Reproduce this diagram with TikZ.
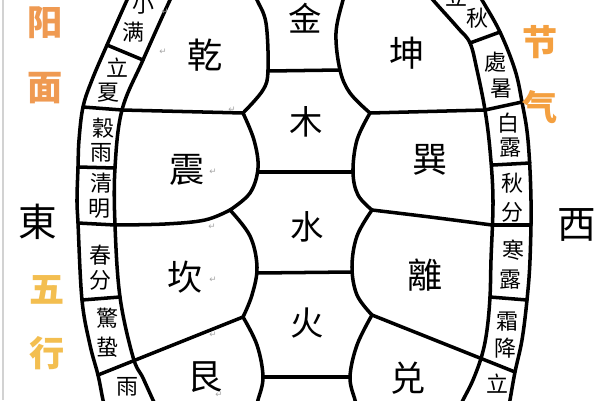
\documentclass[tikz,border=0pt]{standalone}
\usepackage{fontspec}
\newfontfamily\cjk{Noto Sans CJK SC}
\newfontfamily\symf{DejaVu Sans}
\definecolor{yangc}{HTML}{EF9A52}
\definecolor{jieqic}{HTML}{F4A040}
\definecolor{wuxingc}{HTML}{F3BE50}
\tikzset{
  shell/.style={line width=2pt, line join=round, line cap=round},
  bandtxt/.style={font=\cjk\fontsize{12.5}{12.5}\selectfont, inner sep=0pt},
  guatxt/.style={font=\cjk\fontsize{20}{20}\selectfont, inner sep=0pt},
  wxtxt/.style={font=\cjk\fontsize{19}{19}\selectfont, inner sep=0pt},
  sidetxt/.style={font=\cjk\bfseries\fontsize{20}{20}\selectfont, inner sep=0pt},
  dirtxt/.style={font=\cjk\fontsize{22}{22}\selectfont, inner sep=0pt},
  retmark/.style={font=\symf\fontsize{5}{5}\selectfont, text=gray!70, inner sep=0pt},
}
\begin{document}
\begin{tikzpicture}[x=0.02cm,y=-0.02cm]
\useasboundingbox (0,0) rectangle (600,400);
\fill[white] (0,0) rectangle (600,400);
\draw[gray!35, line width=0.8pt] (3,0) -- (3,400);
\begin{scope}
\clip (0,0) rectangle (600,400);
% outer and inner shells
\draw[shell] plot[smooth, tension=0.6] coordinates {(131,-8) (127,0) (107,45) (92,80) (83,107) (79,140) (78,167) (77,200) (78,223) (82,300) (90,345) (98,375) (103,400) (106,410)};
\draw[shell] plot[smooth, tension=0.6] coordinates {(175,-8) (170,0) (143,60) (122,110) (115,168) (115,225) (120,297) (133,357) (143,378) (153,400) (158,410)};
\draw[shell] plot[smooth, tension=0.6] coordinates {(477,-8) (482,0) (500,32) (515,70) (522,102) (528,140) (531,200) (530,260) (527,300) (522,340) (515,372) (510,400) (508,410)};
\draw[shell] plot[smooth, tension=0.6] coordinates {(427,-8) (433,0) (458,28) (470,43) (477,70) (485,110) (490,150) (493,200) (491,260) (490,297) (487,330) (482,355) (473,380) (463,400) (458,410)};
% left band dividers
\draw[shell] (107,45) -- (143,60);
\draw[shell] (83,107) -- (122,110) -- (243,113);
\draw[shell] (78,167) -- (115,168);
\draw[shell] (78,223) -- (115,225);
\draw[shell] (82,300) -- (120,297);
\draw[shell] (98,375) -- (243,317);
% right band dividers
\draw[shell] (470,43) -- (500,32);
\draw[shell] (370,113) -- (485,110) -- (522,102);
\draw[shell] (493,165) -- (530,163);
\draw[shell] (492,225) -- (531,225);
\draw[shell] (490,297) -- (527,300);
\draw[shell] (372,315) -- (515,372);
% left trigram edges
\draw[shell] plot[smooth, tension=0.6] coordinates {(254,-8) (257,0) (266,23) (268,70) (263,90) (243,113)};
\draw[shell] plot[smooth, tension=0.6] coordinates {(243,113) (254,140) (258,168) (250,193) (230,210)};
\draw[shell] plot[smooth, tension=0.6] coordinates {(230,210) (205,220) (165,224) (115,225)};
\draw[shell] plot[smooth, tension=0.6] coordinates {(230,210) (250,236) (257,267) (252,295) (243,317)};
\draw[shell] plot[smooth, tension=0.6] coordinates {(243,317) (257,345) (263,377) (258,400) (255,410)};
% right trigram edges
\draw[shell] plot[smooth, tension=0.6] coordinates {(346,-8) (343,0) (336,33) (340,70) (350,93) (370,113)};
\draw[shell] plot[smooth, tension=0.6] coordinates {(370,113) (357,140) (353,172) (358,195) (372,210)};
\draw[shell] plot[smooth, tension=0.6] coordinates {(372,210) (430,217) (492,225)};
\draw[shell] plot[smooth, tension=0.6] coordinates {(372,210) (357,236) (352,267) (357,295) (372,315)};
\draw[shell] plot[smooth, tension=0.6] coordinates {(372,315) (357,345) (350,377) (355,400) (358,410)};
% central horizontals
\draw[shell] (268,71) -- (340,70);
\draw[shell] (258,172) -- (353,172);
\draw[shell] (257,273) -- (352,272);
\draw[shell] (263,377) -- (350,377);
\end{scope}
% band texts left
\node[bandtxt] (l1a) at (143,4) {小};
\node[bandtxt] (l1b) at (133,32) {满};
\node[bandtxt] (l2a) at (117,68) {立};
\node[bandtxt] (l2b) at (108,93) {夏};
\node[bandtxt] (l3a) at (103,128) {穀};
\node[bandtxt] (l3b) at (101,153) {雨};
\node[bandtxt] (l4a) at (101,183) {清};
\node[bandtxt] (l4b) at (99,209) {明};
\node[bandtxt] (l5a) at (100,255) {春};
\node[bandtxt] (l5b) at (100,280) {分};
\node[bandtxt] (l6a) at (107,318) {驚};
\node[bandtxt] (l6b) at (107,347) {蛰};
\node[bandtxt] (l7a) at (127,387) {雨};
% band texts right
\node[bandtxt] (r1a) at (456,-3) {立};
\node[bandtxt] (r1b) at (477,18) {秋};
\node[bandtxt] (r2a) at (495,62) {處};
\node[bandtxt] (r2b) at (501,89) {暑};
\node[bandtxt] (r3a) at (508,123) {白};
\node[bandtxt] (r3b) at (510,148) {露};
\node[bandtxt] (r4a) at (512,183) {秋};
\node[bandtxt] (r4b) at (512,212) {分};
\node[bandtxt] (r5a) at (513,250) {寒};
\node[bandtxt] (r5b) at (510,280) {露};
\node[bandtxt] (r6a) at (507,322) {霜};
\node[bandtxt] (r6b) at (505,348) {降};
\node[bandtxt] (r7a) at (497,384) {立};
% trigrams
\node[guatxt] (qian) at (205,55) {乾};
\node[guatxt] (zhen) at (187,170) {震};
\node[guatxt] (kan) at (185,277) {坎};
\node[guatxt] (gen) at (205,377) {艮};
\node[guatxt] (kun) at (407,53) {坤};
\node[guatxt] (xun) at (430,160) {巽};
\node[guatxt] (li) at (425,275) {離};
\node[guatxt] (dui) at (408,378) {兑};
% five elements
\node[wxtxt] (jin) at (305,18) {金};
\node[wxtxt] (mu) at (306,122) {木};
\node[wxtxt] (shui) at (307,227) {水};
\node[wxtxt] (huo) at (307,323) {火};
% side labels
\node[sidetxt, text=yangc] (yang) at (45,23) {阳};
\node[sidetxt, text=yangc] (mian) at (45,88) {面};
\node[sidetxt, text=jieqic] (jie) at (540,42) {节};
\node[sidetxt, text=jieqic] (qi) at (540,107) {气};
\node[sidetxt, text=wuxingc] (wu) at (47,290) {五};
\node[sidetxt, text=wuxingc] (xing) at (47,353) {行};
\node[dirtxt] (dong) at (38,222) {東};
\node[dirtxt] (xi) at (577,225) {西};
% return marks
\node[retmark] (m1) at (165,12) {↵};
\node[retmark] (m2) at (163,52) {↵};
\node[retmark] (m3) at (232,110) {↵};
\node[retmark] (m4) at (213,172) {↵};
\node[retmark] (m5) at (212,227) {↵};
\node[retmark] (m6) at (213,280) {↵};
\node[retmark] (m7) at (213,335) {↵};
\node[retmark] (m8) at (219,395) {↵};
\end{tikzpicture}
\end{document}
